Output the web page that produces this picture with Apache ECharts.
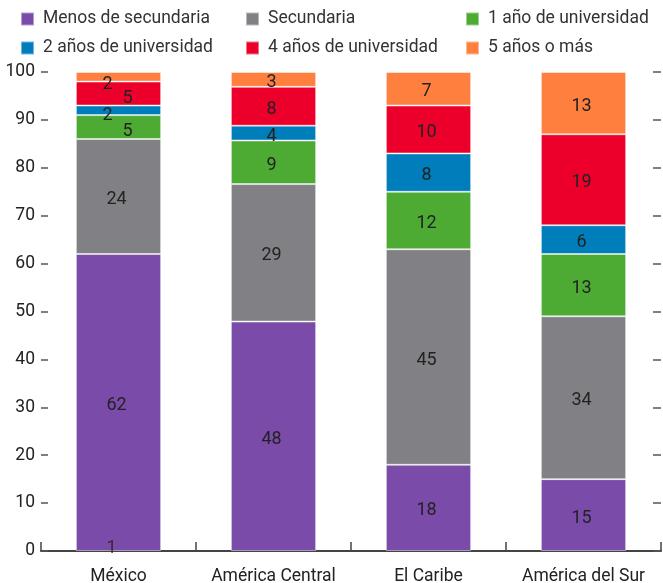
<!DOCTYPE html>
<html>
<head>
<meta charset="utf-8">
<script src="https://cdn.jsdelivr.net/npm/echarts@6/dist/echarts.min.js"></script>
<style>
html,body{margin:0;padding:0;background:#fff;}
#chart{width:663px;height:583px;}
</style>
</head>
<body>
<div id="chart"></div>
<script>
// Categories
const categories = ['México', 'América Central', 'El Caribe', 'América del Sur'];
// Series names
const seriesNames = ['Menos de secundaria', 'Secundaria', '1 año de universidad', '2 años de universidad', '4 años de universidad', '5 años o más'];
// Segment heights (as drawn)
const menosSecundaria = [62, 47.9, 18, 15];
const secundaria = [24, 28.7, 45, 34];
const univ1 = [5, 9.1, 12, 13];
const univ2 = [2, 3.1, 8, 6];
const univ4 = [5, 8.1, 10, 19];
const univ5 = [2, 3.1, 7, 13];
// Printed labels
const lblMenos = [62, 48, 18, 15];
const lblSecundaria = [24, 29, 45, 34];
const lblUniv1 = [5, 9, 12, 13];
const lblUniv2 = [2, 4, 8, 6];
const lblUniv4 = [5, 8, 10, 19];
const lblUniv5 = [2, 3, 7, 13];
// Extra stray label at México base
const baseLabelText = '1';
// Y ticks
const yMin = 0, yMax = 100, yInterval = 10;

const FONT = "Roboto, 'Liberation Sans', sans-serif";
const FS = 17.5;
const colors = ['#7B4BAA', '#818185', '#4DAA32', '#007DBB', '#EC002B', '#FF7F3F'];
const values = [menosSecundaria, secundaria, univ1, univ2, univ4, univ5];
const labels = [lblMenos, lblSecundaria, lblUniv1, lblUniv2, lblUniv4, lblUniv5];

// label offsets for the crowded México bar (series index -> offset)
const mexOffsets = {2: [9, 4], 3: [-11, 5], 4: [9, 5], 5: [-11, 8]};

const series = seriesNames.map((name, si) => ({
  name: name,
  type: 'bar',
  stack: 'total',
  barWidth: '55%',
  itemStyle: {color: colors[si], borderColor: 'rgba(255,255,255,0.45)', borderWidth: 1},
  label: {
    show: true,
    position: 'inside',
    color: '#222',
    fontFamily: FONT,
    fontSize: FS + 0.5,
    offset: [-2, 3],
  },
  emphasis: {disabled: true},
  data: values[si].map((v, ci) => {
    const d = {value: v, label: {formatter: String(labels[si][ci])}};
    if (ci === 0 && mexOffsets[si]) d.label.offset = mexOffsets[si];
    return d;
  })
}));

series.push({
  name: 'base',
  type: 'scatter',
  symbolSize: 0,
  silent: true,
  data: [[categories[0], 0]],
  label: {show: true, position: 'inside', formatter: baseLabelText, color: '#222', fontFamily: FONT, fontSize: FS + 0.5, offset: [-7, -3]},
  z: 5
});

const legendCommon = {
  orient: 'vertical',
  top: 10,
  padding: 0,
  itemWidth: 13,
  itemHeight: 13,
  itemGap: 11,
  icon: 'rect',
  selectedMode: false,
  textStyle: {fontFamily: FONT, fontSize: FS, color: '#333', padding: [0, 0, 0, 4]}
};

const option = {
  animation: false,
  color: colors,
  legend: [
    Object.assign({left: 20, data: [seriesNames[0], seriesNames[3]]}, legendCommon),
    Object.assign({left: 245, data: [seriesNames[1], seriesNames[4]]}, legendCommon),
    Object.assign({left: 465, data: [seriesNames[2], seriesNames[5]]}, legendCommon)
  ],
  grid: {left: 41, right: 2, top: 72, bottom: 32, containLabel: false, outerBoundsMode: 'none'},
  xAxis: {
    type: 'category',
    data: categories,
    axisLine: {show: true, lineStyle: {color: '#444', width: 2}},
    axisTick: {show: true, inside: true, length: 9, alignWithLabel: false, lineStyle: {color: '#444', width: 1.5}},
    axisLabel: {fontFamily: FONT, fontSize: FS, color: '#222', margin: 17, interval: 0}
  },
  yAxis: [
    {
      type: 'value', min: yMin, max: yMax, interval: yInterval,
      axisLine: {show: false},
      axisTick: {show: true, inside: true, length: 7, lineStyle: {color: '#555', width: 1.5}},
      axisLabel: {fontFamily: FONT, fontSize: FS, color: '#222', margin: 6},
      splitLine: {show: false}
    },
    {
      type: 'value', min: yMin, max: yMax, interval: yInterval, position: 'right',
      axisLine: {show: false},
      axisTick: {show: true, inside: true, length: 8, lineStyle: {color: '#555', width: 1.5}},
      axisLabel: {show: false},
      splitLine: {show: false}
    }
  ],
  series: series
};

const chart = echarts.init(document.getElementById('chart'), null, {renderer: 'canvas'});
chart.setOption(option);
</script>
</body>
</html>
